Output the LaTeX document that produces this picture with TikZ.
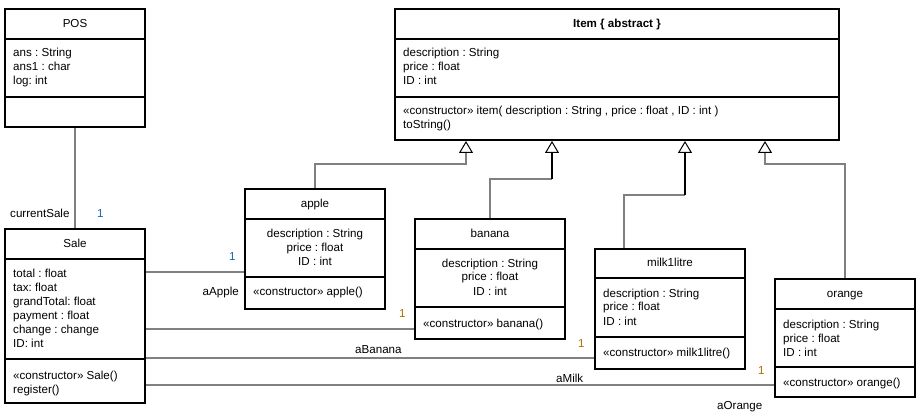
\documentclass[tikz,border=0pt]{standalone}
\usepackage{fontspec}
\setmainfont{Liberation Sans}
\usetikzlibrary{arrows.meta}
\definecolor{multblue}{RGB}{20,100,170}
\definecolor{multorange}{RGB}{170,110,0}
\definecolor{conngray}{RGB}{128,128,128}
\frenchspacing
\begin{document}
\frenchspacing
\begin{tikzpicture}[x=1pt,y=-1pt,
  every node/.style={font=\fontsize{11.6}{14}\selectfont\frenchspacing, inner sep=0pt},
  classbox/.style={draw=black, line width=2pt, fill=white, rectangle},
  divider/.style={draw=black, line width=2pt},
  txt/.style={anchor=base west, align=left},
  ctxt/.style={anchor=base, align=center},
  assoc/.style={draw=conngray, line width=1.6pt},
  inherit/.style={draw=conngray, line width=1.6pt, -{Triangle[fill=white, color=black, length=12pt, width=14pt, line width=1pt]}},
  lbl/.style={anchor=base west},
  mblue/.style={anchor=base west, text=multblue},
  morange/.style={anchor=base west, text=multorange}]
\useasboundingbox (0,0) rectangle (920,419);

% ---------- classes ----------
% (multi-line texts are placed by the baseline of their LAST line)
% POS
\node[classbox, minimum width=140, minimum height=118] (pos) at (75,68) {};
\draw[divider] (pos.west |- 0,39) -- (pos.east |- 0,39);
\draw[divider] (pos.west |- 0,97) -- (pos.east |- 0,97);
\node[ctxt] (posT) at (75,28) {POS};
\node[txt] (posA) at (13,85) {ans : String\\ans1 : char\\log: int};

% Item
\node[classbox, minimum width=444, minimum height=131] (item) at (617,74.5) {};
\draw[divider] (item.west |- 0,39) -- (item.east |- 0,39);
\draw[divider] (item.west |- 0,97) -- (item.east |- 0,97);
\node[ctxt, font=\fontsize{11.6}{14}\selectfont\bfseries\frenchspacing] (itemT) at (617,28) {Item \{ abstract \}};
\node[txt] (itemA) at (403,85) {description : String\\price : float\\ID : int};
\node[txt] (itemM) at (403,129) {«constructor» item( description : String , price : float , ID : int )\\toString()};

% Sale
\node[classbox, minimum width=140, minimum height=174] (sale) at (75,316) {};
\draw[divider] (sale.west |- 0,259) -- (sale.east |- 0,259);
\draw[divider] (sale.west |- 0,359) -- (sale.east |- 0,359);
\node[ctxt] (saleT) at (75,248) {Sale};
\node[txt] (saleA) at (13,347) {total : float\\tax: float\\grandTotal: float\\payment : float\\change : change\\ID: int};
\node[txt] (saleM) at (13,393) {«constructor» Sale()\\register()};

% apple
\node[classbox, minimum width=140, minimum height=120] (apple) at (315,249) {};
\draw[divider] (apple.west |- 0,219) -- (apple.east |- 0,219);
\draw[divider] (apple.west |- 0,277) -- (apple.east |- 0,277);
\node[ctxt] (appleT) at (315,208) {apple};
\node[ctxt] (appleA) at (315,266) {description : String\\price : float\\ID : int};
\node[txt] (appleM) at (253,296) {«constructor» apple()};

% banana
\node[classbox, minimum width=150, minimum height=120] (banana) at (490,279) {};
\draw[divider] (banana.west |- 0,249) -- (banana.east |- 0,249);
\draw[divider] (banana.west |- 0,307) -- (banana.east |- 0,307);
\node[ctxt] (bananaT) at (490,238) {banana};
\node[ctxt] (bananaA) at (490,295) {description : String\\price : float\\ID : int};
\node[txt] (bananaM) at (423,327) {«constructor» banana()};

% milk1litre
\node[classbox, minimum width=150, minimum height=120] (milk) at (670,309) {};
\draw[divider] (milk.west |- 0,278) -- (milk.east |- 0,278);
\draw[divider] (milk.west |- 0,337) -- (milk.east |- 0,337);
\node[ctxt] (milkT) at (670,267) {milk1litre};
\node[txt] (milkA) at (603,325) {description : String\\price : float\\ID : int};
\node[txt] (milkM) at (603,356) {«constructor» milk1litre()};

% orange
\node[classbox, minimum width=140, minimum height=118] (orange) at (845,338) {};
\draw[divider] (orange.west |- 0,309) -- (orange.east |- 0,309);
\draw[divider] (orange.west |- 0,367) -- (orange.east |- 0,367);
\node[ctxt] (orangeT) at (845,298) {orange};
\node[txt] (orangeA) at (783,356) {description : String\\price : float\\ID : int};
\node[txt] (orangeM) at (783,386) {«constructor» orange()};

% ---------- associations ----------
\draw[assoc] (pos.south) -- (sale.north);
\draw[assoc] (sale.east |- 0,272) -- (apple.west |- 0,272);
\draw[assoc] (sale.east |- 0,329) -- (banana.west |- 0,329);
\draw[assoc] (sale.east |- 0,358) -- (milk.west |- 0,358);
\draw[assoc] (sale.east |- 0,385) -- (orange.west |- 0,385);

% ---------- generalisations ----------
\coordinate (milkTop) at ([xshift=30pt]milk.north west);
\draw[inherit] (apple.north) |- (466,164) -- (item.south -| 466,0);
\draw[assoc] (banana.north) |- (552,179);
\draw[inherit, draw=black] (552,179) -- (item.south -| 552,0);
\draw[assoc] (milkTop) |- (685,195);
\draw[inherit, draw=black] (685,195) -- (item.south -| 685,0);
\draw[inherit] (orange.north) |- (765,164) -- (item.south -| 765,0);

% ---------- labels ----------
\node[lbl, fill=white, inner xsep=2pt, inner ysep=3pt] (lcs) at (8,218) {currentSale\hspace{3pt}};
\node[mblue] (m0) at (97,218) {1};
\node[mblue] (m1) at (229,261) {1};
\node[lbl, anchor=base east] (lapple) at (239,296) {aApple};
\node[morange] (m2) at (399,317) {1};
\node[lbl] (lbanana) at (355,353) {aBanana};
\node[morange] (m3) at (578,347) {1};
\node[lbl] (lmilk) at (556,382) {aMilk};
\node[morange] (m4) at (758,374) {1};
\node[lbl] (lorange) at (717,409) {aOrange};
\end{tikzpicture}
\end{document}
